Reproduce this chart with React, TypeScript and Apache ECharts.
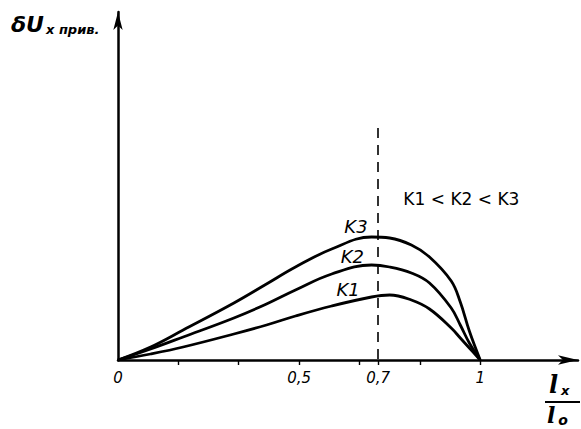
import React, { useEffect, useRef } from "react";
import * as echarts from "echarts";

// relative length l_x / l_o
const xValues = [0, 0.09, 0.18, 0.32, 0.41, 0.49, 0.59, 0.7, 0.75, 0.81, 0.86, 0.92, 0.945, 0.97, 1];
// δU_x прив. (arbitrary units)
const k1Values = [0, 0.06, 0.13, 0.26, 0.35, 0.44, 0.54, 0.63, 0.65, 0.6, 0.51, 0.32, 0.22, 0.12, 0];
const k2Values = [0, 0.11, 0.23, 0.42, 0.56, 0.7, 0.86, 0.95, 0.93, 0.87, 0.77, 0.52, 0.35, 0.17, 0];
const k3Values = [0, 0.13, 0.3, 0.57, 0.76, 0.93, 1.11, 1.23, 1.22, 1.15, 1.03, 0.79, 0.58, 0.29, 0];

const seriesNames = ["K1", "K2", "K3"];
const tickValues = [1 / 6, 2 / 6, 3 / 6, 4 / 6, 0.718, 5 / 6, 1];
const labelValues = [0, 0.5, 0.718, 1];
const labelTexts = ["0", "0,5", "0,7", "1"];
const markerX = 0.718;
const markerTop = 2.32;
// label anchors [x, y] for K1, K2, K3
const nameAnchors = [
  [0.635, 0.71],
  [0.647, 1.04],
  [0.657, 1.34],
];
const relationText = "K1 < K2 < K3";
const relationAnchor = [0.948, 1.61];

const FONT = "DejaVu Sans";
const SERIF = "DejaVu Serif";

export default function App() {
  const ref = useRef<HTMLDivElement>(null);
  useEffect(() => {
    if (!ref.current) return;
    const chart = echarts.init(ref.current, null, { renderer: "svg" });
    const all = [k1Values, k2Values, k3Values];
    const series: any[] = all.map((vals, i) => ({
      type: "line",
      name: seriesNames[i],
      data: xValues.map((x, j) => [x, vals[j]]),
      smooth: 0.4,
      symbol: "none",
      clip: false,
      lineStyle: { color: "#000", width: 2.8 },
      markPoint: {
        symbol: "circle",
        symbolSize: 1,
        itemStyle: { color: "rgba(0,0,0,0)" },
        label: {
          show: true,
          position: "inside",
          formatter: seriesNames[i],
          color: "#000",
          fontFamily: FONT,
          fontStyle: "italic",
          fontSize: 18,
        },
        data: [{ coord: nameAnchors[i] }],
      },
    }));
    series[2].markLine = {
      symbol: "none",
      silent: true,
      lineStyle: { type: [10, 7], color: "#000", width: 1.6 },
      label: { show: false },
      data: [[{ coord: [markerX, markerTop] }, { coord: [markerX, 0] }]],
    };
    series[0].markPoint.data.push({
      coord: relationAnchor,
      label: {
        formatter: relationText,
        fontStyle: "normal",
        fontSize: 17,
      },
    });

    chart.setOption({
      animation: false,
      backgroundColor: "#fff",
      title: {
        left: 6,
        top: 8,
        text: "{d|δ}{u|U}{s|x прив.}",
        textStyle: {
          rich: {
            d: { fontFamily: FONT, fontSize: 22, fontStyle: "italic", fontWeight: "bold", color: "#000" },
            u: { fontFamily: FONT, fontSize: 22, fontStyle: "italic", color: "#000" },
            s: { fontFamily: FONT, fontSize: 13, fontStyle: "italic", fontWeight: "bold", color: "#000", verticalAlign: "bottom", padding: [10, 0, 0, 2] },
          },
        },
      },
      grid: { left: 118, right: 3, top: 12, bottom: 69 },
      xAxis: {
        type: "value",
        min: 0,
        max: 1.27,
        splitLine: { show: false },
        axisLine: {
          onZero: false,
          symbol: ["none", "arrow"],
          symbolSize: [7, 20],
          lineStyle: { color: "#000", width: 2.5 },
        },
        axisTick: { show: true, customValues: tickValues, length: 5, lineStyle: { color: "#000", width: 1.4 } },
        axisLabel: {
          customValues: labelValues,
          formatter: (v: number) => {
            const i = labelValues.findIndex((x) => Math.abs(x - v) < 1e-6);
            return i >= 0 ? labelTexts[i] : "";
          },
          color: "#000",
          fontFamily: FONT,
          fontStyle: "italic",
          fontSize: 15,
          margin: 10,
        },
      },
      yAxis: {
        type: "value",
        min: 0,
        max: 3.48,
        splitLine: { show: false },
        axisTick: { show: false },
        axisLabel: { show: false },
        axisLine: {
          show: true,
          onZero: false,
          symbol: ["none", "arrow"],
          symbolSize: [7, 18],
          lineStyle: { color: "#000", width: 2.5 },
        },
      },
      graphic: [
        {
          type: "text",
          left: 549,
          top: 372,
          style: {
            text: "{l|l}{x|x}",
            rich: {
              l: { fontFamily: SERIF, fontSize: 24, lineHeight: 26, fontStyle: "italic", fontWeight: "bold", fill: "#000" },
              x: { fontFamily: FONT, fontSize: 13, lineHeight: 26, fontStyle: "italic", fontWeight: "bold", fill: "#000", verticalAlign: "bottom", padding: [8, 0, 0, 3] },
            },
          },
        },
        {
          type: "line",
          shape: { x1: 545, y1: 402, x2: 580, y2: 402 },
          style: { stroke: "#000", lineWidth: 2 },
        },
        {
          type: "text",
          left: 547,
          top: 404,
          style: {
            text: "{l|l}{x|o}",
            rich: {
              l: { fontFamily: SERIF, fontSize: 22, lineHeight: 23, fontStyle: "italic", fontWeight: "bold", fill: "#000" },
              x: { fontFamily: FONT, fontSize: 14, lineHeight: 23, fontStyle: "italic", fontWeight: "bold", fill: "#000", verticalAlign: "bottom", padding: [6, 0, 0, 3] },
            },
          },
        },
      ],
      series,
    });
    return () => chart.dispose();
  }, []);
  return <div ref={ref} style={{ position: "fixed", left: 0, top: 0, width: 581, height: 429 }} />;
}
